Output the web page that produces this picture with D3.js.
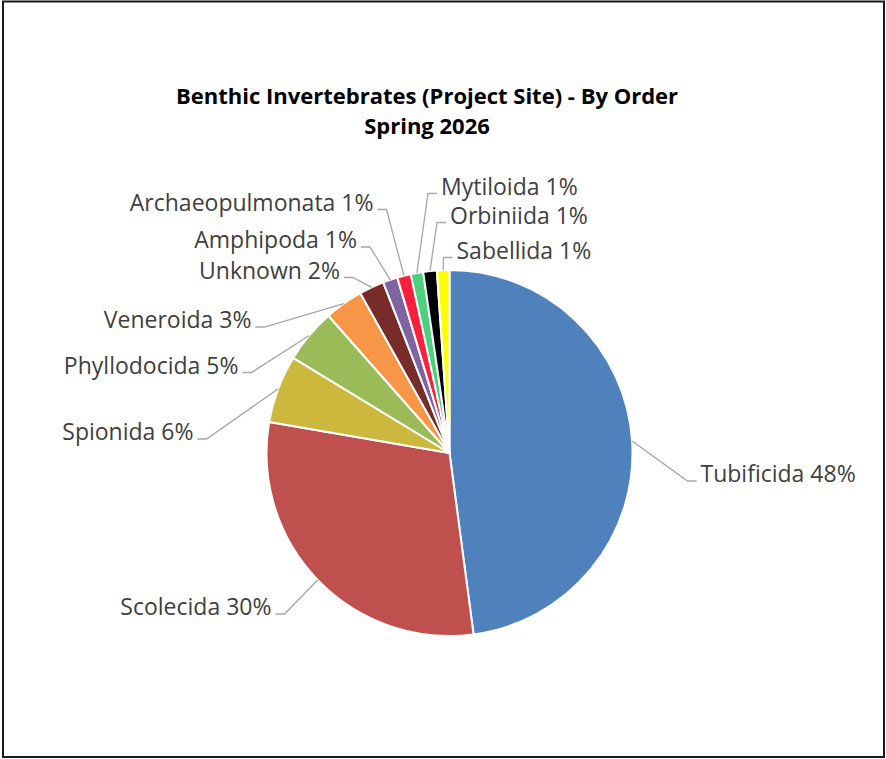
<!DOCTYPE html>
<html>
<head>
<meta charset="utf-8">
<script src="https://cdn.jsdelivr.net/npm/d3@7"></script>
<style>
  html, body { margin: 0; padding: 0; background: #fff; }
  .slice-label { font-family: "Open Sans", sans-serif; font-size: 23px; fill: #404040; }
  .title { font-family: "Open Sans", sans-serif; font-weight: 700; font-size: 22px; fill: #000; }
</style>
</head>
<body>
<div id="chart"></div>
<script>
// Data: share of each order (percent)
const orders = ['Tubificida', 'Scolecida', 'Spionida', 'Phyllodocida', 'Veneroida', 'Unknown',
                'Amphipoda', 'Archaeopulmonata', 'Mytiloida', 'Orbiniida', 'Sabellida'];
const shares = [47.9, 29.8, 6.0, 4.8, 3.4, 2.2, 1.3, 1.2, 1.1, 1.2, 1.1];
const sliceColors = ['#4F81BD', '#C0504D', '#CBB83D', '#9BBB59', '#F79646', '#772C2A',
                     '#8064A2', '#FA203C', '#4CD07D', '#000000', '#FFFF00'];
const titleLines = ['Benthic Invertebrates (Project Site) - By Order', 'Spring 2026'];

// label placement (side, offset from pie centre to text edge / baseline)
const labelSpots = [
  ['start', 251, 29], ['end', -178, 162], ['end', -256, -13], ['end', -211, -79.5],
  ['end', -198, -125], ['end', -109.5, -174.5], ['end', -92.5, -205], ['end', -76, -242.5],
  ['start', -8.5, -258.5], ['start', 0.5, -229.5], ['start', 7, -194.5]
];

const W = 886, H = 759;
const cx = 449.5, cy = 453, radius = 183;

const svg = d3.select('#chart').append('svg')
  .attr('width', W)
  .attr('height', H);

// chart border
svg.append('rect')
  .attr('x', 3).attr('y', 1.5)
  .attr('width', 881).attr('height', 755.5)
  .attr('fill', '#fff')
  .attr('stroke', '#1a1a1a')
  .attr('stroke-width', 2);

svg.selectAll('.title')
  .data(titleLines)
  .enter()
  .append('text')
  .attr('class', 'title')
  .attr('x', 427)
  .attr('y', (d, i) => 104 + i * 30)
  .attr('text-anchor', 'middle')
  .text(d => d);

const pieData = d3.pie().sort(null).value(d => d)(shares);
const arc = d3.arc().innerRadius(0).outerRadius(radius);

const g = svg.append('g').attr('transform', `translate(${cx},${cy})`);

g.selectAll('path')
  .data(pieData)
  .enter()
  .append('path')
  .attr('d', arc)
  .attr('fill', (d, i) => sliceColors[i])
  .attr('stroke', '#fff')
  .attr('stroke-width', 2)
  .attr('stroke-linejoin', 'round');

// leader lines: arc edge at mid angle -> elbow -> short horizontal to the label
pieData.forEach((d, i) => {
  const mid = (d.startAngle + d.endAngle) / 2;
  const p0 = [radius * Math.sin(mid), -radius * Math.cos(mid)];
  const [side, tx, ty] = labelSpots[i];
  const dir = side === 'start' ? -1 : 1;
  const lineY = ty - 1;
  const near = [tx + dir * 4, lineY];
  const elbow = [tx + dir * 13, lineY];

  g.append('polyline')
    .attr('points', [p0, elbow, near].map(p => p.join(',')).join(' '))
    .attr('fill', 'none')
    .attr('stroke', '#A6A6A6')
    .attr('stroke-width', 1.3);

  g.append('text')
    .attr('class', 'slice-label')
    .attr('x', tx)
    .attr('y', ty)
    .attr('text-anchor', side)
    .text(`${orders[i]} ${Math.round(d.data)}%`);
});
</script>
</body>
</html>
